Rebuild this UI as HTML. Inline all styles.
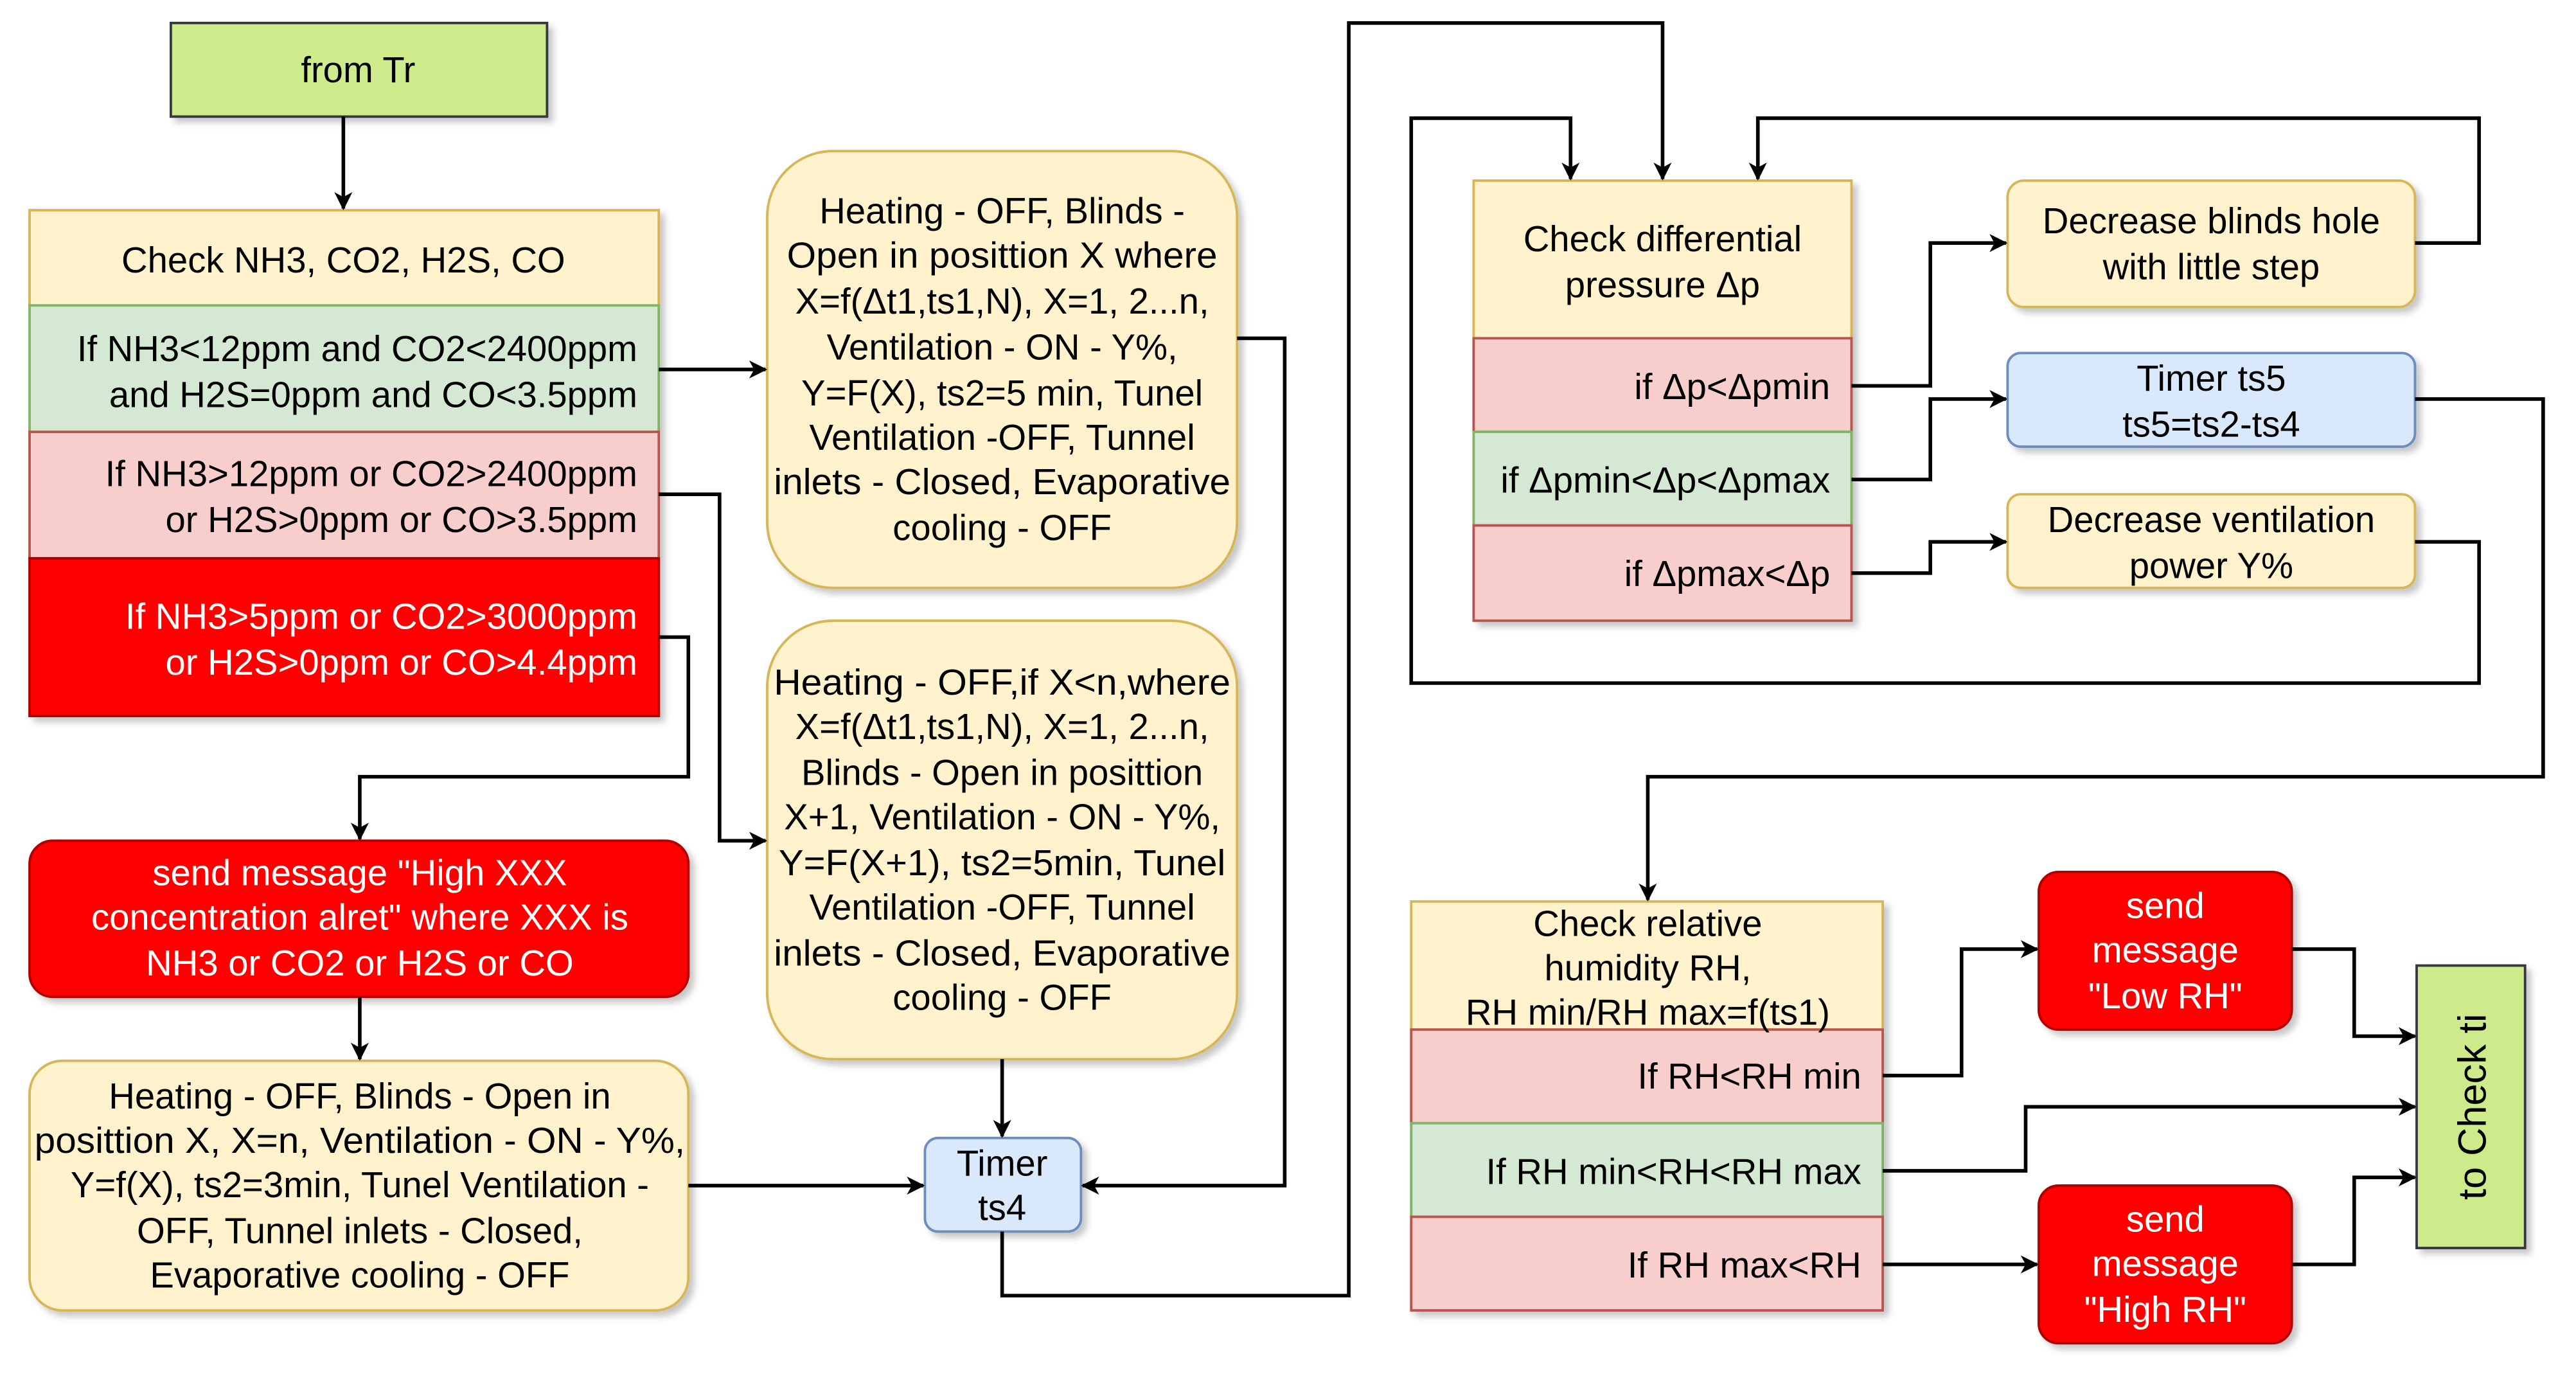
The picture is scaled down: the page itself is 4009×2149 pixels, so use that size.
<!DOCTYPE html>
<html><head><meta charset="utf-8"><style>html,body{margin:0;padding:0;background:#fff}svg{display:block}</style></head><body>
<svg width="4009" height="2149" viewBox="0 0 1568 841" preserveAspectRatio="none" xmlns="http://www.w3.org/2000/svg" font-family="Liberation Sans, Arial, sans-serif" font-size="22" fill="#000">
<defs>
<marker id="a" markerWidth="11" markerHeight="11" refX="10" refY="5.5" orient="auto" markerUnits="userSpaceOnUse"><path d="M0,0 L11,5.5 L0,11 L3,5.5 z" fill="#000"/></marker>
<filter id="s" x="-10%" y="-10%" width="130%" height="130%"><feDropShadow dx="3" dy="3" stdDeviation="2" flood-color="#000" flood-opacity="0.22"/></filter>
</defs>
<g filter="url(#s)" stroke-width="1.5">
<rect x="104" y="14" width="229" height="57" fill="#cdeb8b" stroke="#36393d"/>
<rect x="18" y="128" width="383" height="58" fill="#fff2cc" stroke="#d6b656"/>
<rect x="18" y="186" width="383" height="77" fill="#d5e8d4" stroke="#82b366"/>
<rect x="18" y="263" width="383" height="77" fill="#f8cecc" stroke="#b85450"/>
<rect x="18" y="340" width="383" height="96" fill="#ff0000" stroke="#b20000"/>
<rect x="467" y="92" width="286" height="266" rx="40" fill="#fff2cc" stroke="#d6b656"/>
<rect x="467" y="378" width="286" height="267" rx="40" fill="#fff2cc" stroke="#d6b656"/>
<rect x="18" y="512" width="401" height="95" rx="14" fill="#ff0000" stroke="#b20000"/>
<rect x="18" y="646" width="401" height="152" rx="20" fill="#fff2cc" stroke="#d6b656"/>
<rect x="563" y="693" width="95" height="57" rx="8" fill="#dae8fc" stroke="#6c8ebf"/>
<rect x="897" y="110" width="230" height="96" fill="#fff2cc" stroke="#d6b656"/>
<rect x="897" y="206" width="230" height="57" fill="#f8cecc" stroke="#b85450"/>
<rect x="897" y="263" width="230" height="57" fill="#d5e8d4" stroke="#82b366"/>
<rect x="897" y="320" width="230" height="58" fill="#f8cecc" stroke="#b85450"/>
<rect x="1222" y="110" width="248" height="77" rx="10" fill="#fff2cc" stroke="#d6b656"/>
<rect x="1222" y="215" width="248" height="57" rx="8" fill="#dae8fc" stroke="#6c8ebf"/>
<rect x="1222" y="301" width="248" height="57" rx="8" fill="#fff2cc" stroke="#d6b656"/>
<rect x="859" y="549" width="287" height="78" fill="#fff2cc" stroke="#d6b656"/>
<rect x="859" y="627" width="287" height="57" fill="#f8cecc" stroke="#b85450"/>
<rect x="859" y="684" width="287" height="57" fill="#d5e8d4" stroke="#82b366"/>
<rect x="859" y="741" width="287" height="57" fill="#f8cecc" stroke="#b85450"/>
<rect x="1241" y="531" width="154" height="96" rx="12" fill="#ff0000" stroke="#b20000"/>
<rect x="1241" y="722" width="154" height="96" rx="12" fill="#ff0000" stroke="#b20000"/>
<rect x="1471" y="588" width="66" height="172" fill="#cdeb8b" stroke="#36393d"/>
</g>
<g fill="none" stroke="#000" stroke-width="2.2" marker-end="url(#a)">
<path d="M209,71 V127"/>
<path d="M401,225 H466"/>
<path d="M401,301 H438 V512 H466"/>
<path d="M401,388 H419 V473 H219 V511"/>
<path d="M219,607 V645"/>
<path d="M419,722 H562"/>
<path d="M610,645 V692"/>
<path d="M753,206 H782 V722 H659"/>
<path d="M610,750 V789 H821 V14 H1012 V109"/>
<path d="M1127,235 H1175 V148 H1221"/>
<path d="M1127,292 H1175 V243 H1221"/>
<path d="M1127,349 H1175 V330 H1221"/>
<path d="M1470,148 H1509 V72 H1070 V109"/>
<path d="M1470,330 H1509 V416 H859 V72 H956 V109"/>
<path d="M1470,243 H1548 V473 H1003 V548"/>
<path d="M1146,655 H1194 V578 H1240"/>
<path d="M1395,578 H1433 V631 H1470"/>
<path d="M1146,713 H1233 V674 H1470"/>
<path d="M1146,770 H1240"/>
<path d="M1395,770 H1433 V717 H1470"/>
</g>
<g text-anchor="middle">
<text x="218" y="50">from Tr</text>
<text x="209" y="166">Check NH3, CO2, H2S, CO</text>
<text x="610" y="136">Heating - OFF, Blinds -</text>
<text x="610" y="163" textLength="262" lengthAdjust="spacingAndGlyphs">Open in posittion X where</text>
<text x="610" y="191">X=f(Δt1,ts1,N), X=1, 2...n,</text>
<text x="610" y="219">Ventilation - ON - Y%,</text>
<text x="610" y="247">Y=F(X), ts2=5 min, Tunel</text>
<text x="610" y="274">Ventilation -OFF, Tunnel</text>
<text x="610" y="301" textLength="278" lengthAdjust="spacingAndGlyphs">inlets - Closed, Evaporative</text>
<text x="610" y="329">cooling - OFF</text>
<text x="610" y="423" textLength="278" lengthAdjust="spacingAndGlyphs">Heating - OFF,if X&lt;n,where</text>
<text x="610" y="450">X=f(Δt1,ts1,N), X=1, 2...n,</text>
<text x="610" y="478">Blinds - Open in posittion</text>
<text x="610" y="505">X+1, Ventilation - ON - Y%,</text>
<text x="610" y="533" textLength="272" lengthAdjust="spacingAndGlyphs">Y=F(X+1), ts2=5min, Tunel</text>
<text x="610" y="560">Ventilation -OFF, Tunnel</text>
<text x="610" y="588" textLength="278" lengthAdjust="spacingAndGlyphs">inlets - Closed, Evaporative</text>
<text x="610" y="615">cooling - OFF</text>
<g fill="#fff"><text x="219" y="539">send message "High XXX</text>
<text x="219" y="566">concentration alret"  where XXX is</text>
<text x="219" y="594">NH3 or CO2 or H2S or CO</text></g>
<text x="219" y="675">Heating - OFF, Blinds - Open in</text>
<text x="219" y="702" textLength="396" lengthAdjust="spacingAndGlyphs">posittion X, X=n, Ventilation - ON - Y%,</text>
<text x="219" y="729">Y=f(X), ts2=3min, Tunel Ventilation -</text>
<text x="219" y="757">OFF, Tunnel inlets - Closed,</text>
<text x="219" y="784">Evaporative cooling - OFF</text>
<text x="610" y="716">Timer</text>
<text x="610" y="743">ts4</text>
<text x="1012" y="153">Check differential</text>
<text x="1012" y="181">pressure Δp</text>
<text x="1346" y="142">Decrease blinds hole</text>
<text x="1346" y="170">with little step</text>
<text x="1346" y="238">Timer ts5</text>
<text x="1346" y="266">ts5=ts2-ts4</text>
<text x="1346" y="324">Decrease ventilation</text>
<text x="1346" y="352">power Y%</text>
<text x="1003" y="570">Check relative</text>
<text x="1003" y="597">humidity RH,</text>
<text x="1003" y="624">RH min/RH max=f(ts1)</text>
<g fill="#fff"><text x="1318" y="559">send</text>
<text x="1318" y="586">message</text>
<text x="1318" y="614">"Low RH"</text>
<text x="1318" y="750">send</text>
<text x="1318" y="777">message</text>
<text x="1318" y="805">"High RH"</text></g>
<text font-size="24" transform="translate(1513,674) rotate(-90)">to Check ti</text>
</g>
<g text-anchor="end">
<text x="388" y="220">If NH3&lt;12ppm and CO2&lt;2400ppm</text>
<text x="388" y="248">and H2S=0ppm and CO&lt;3.5ppm</text>
<text x="388" y="296">If NH3&gt;12ppm or CO2&gt;2400ppm</text>
<text x="388" y="324">or H2S&gt;0ppm or CO&gt;3.5ppm</text>
<g fill="#fff"><text x="388" y="383">If NH3&gt;5ppm or CO2&gt;3000ppm</text>
<text x="388" y="411">or H2S&gt;0ppm or CO&gt;4.4ppm</text></g>
<text x="1114" y="243">if Δp&lt;Δpmin</text>
<text x="1114" y="300">if Δpmin&lt;Δp&lt;Δpmax</text>
<text x="1114" y="357">if Δpmax&lt;Δp</text>
<text x="1133" y="663">If RH&lt;RH min</text>
<text x="1133" y="721">If RH min&lt;RH&lt;RH max</text>
<text x="1133" y="778">If RH max&lt;RH</text>
</g>
</svg>
</body></html>
